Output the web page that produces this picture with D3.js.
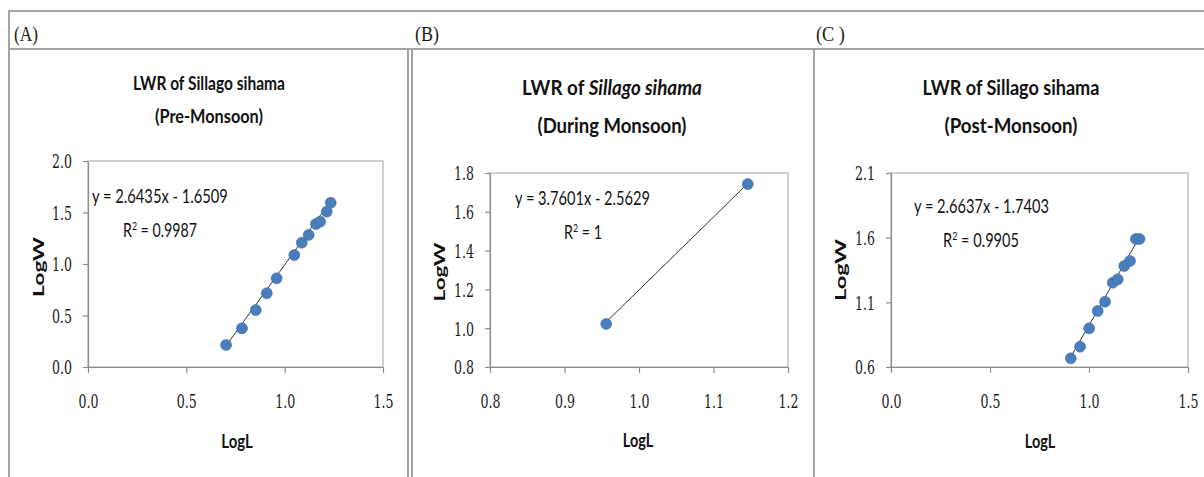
<!DOCTYPE html>
<html>
<head>
<meta charset="utf-8">
<script src="https://cdnjs.cloudflare.com/ajax/libs/d3/7.8.5/d3.min.js"></script>
<style>
  html, body { margin: 0; padding: 0; background: #fff; }
  svg { display: block; }
</style>
</head>
<body>
<script>
// ---- data ----
const preLogL = [0.702, 0.783, 0.853, 0.909, 0.959, 1.049, 1.087, 1.122, 1.159, 1.180, 1.214, 1.234];
const preLogW = [0.214, 0.376, 0.553, 0.716, 0.861, 1.087, 1.207, 1.282, 1.388, 1.411, 1.508, 1.595];

const duringLogL = [0.956, 1.146];
const duringLogW = [1.022, 1.743];

const postLogL = [0.908, 0.955, 1.001, 1.044, 1.081, 1.120, 1.145, 1.178, 1.207, 1.237, 1.255];
const postLogW = [0.667, 0.757, 0.899, 1.033, 1.105, 1.252, 1.278, 1.381, 1.420, 1.590, 1.590];

const fitSlopes = [2.6435, 3.7601, 2.6637];
const fitIntercepts = [-1.6509, -2.5629, -1.7403];
const eqLabels = ["y = 2.6435x - 1.6509", "y = 3.7601x - 2.5629", "y = 2.6637x - 1.7403"];
const r2Labels = ["0.9987", "1", "0.9905"];

const preXTicks = [0, 0.5, 1.0, 1.5];
const preYTicks = [0, 0.5, 1.0, 1.5, 2.0];
const duringXTicks = [0.8, 0.9, 1.0, 1.1, 1.2];
const duringYTicks = [0.8, 1.0, 1.2, 1.4, 1.6, 1.8];
const postXTicks = [0, 0.5, 1.0, 1.5];
const postYTicks = [0.6, 1.1, 1.6, 2.1];

const panelTags = ["(A)", "(B)", "(C )"];
const titlePrefix = "LWR of ";
const species = "Sillago sihama";
const speciesItalic = [false, true, false];
const seasons = ["(Pre-Monsoon)", "(During Monsoon)", "(Post-Monsoon)"];
const xTitle = "LogL";
const yTitle = "LogW";

// ---- layout ----
const W = 1204, H = 477;
const sans = "Lato, 'Open Sans', sans-serif";
const serif = "'DejaVu Serif', 'Liberation Serif', serif";
const frameColor = "#a3a3a3";

const svg = d3.select("body").append("svg")
  .attr("width", W).attr("height", H);

// frame lines
const frame = svg.append("g").attr("stroke", frameColor).attr("stroke-width", 2).attr("fill", "none");
frame.append("line").attr("x1", 9).attr("x2", W).attr("y1", 11).attr("y2", 11);
frame.append("line").attr("x1", 9).attr("x2", W).attr("y1", 49).attr("y2", 49);
frame.append("line").attr("x1", 9).attr("x2", 9).attr("y1", 10).attr("y2", H);
frame.append("line").attr("x1", 408).attr("x2", 408).attr("y1", 49).attr("y2", H);
frame.append("line").attr("x1", 412).attr("x2", 412).attr("y1", 49).attr("y2", H);
frame.append("line").attr("x1", 814).attr("x2", 814).attr("y1", 49).attr("y2", H);

// text helper: parts = [{t, italic, sup}], fitted to a width by squeezing horizontally
function placeText(parent, o) {
  const g = parent.append("g")
    .attr("transform", `translate(${o.x},${o.y})` + (o.rotate ? ` rotate(${o.rotate})` : ""));
  const t = g.append("text")
    .attr("text-anchor", o.anchor || "start")
    .attr("font-family", o.family || sans)
    .attr("font-size", o.size)
    .attr("font-weight", o.weight || "normal")
    .attr("fill", o.color || "#111");
  let shift = 0;
  o.parts.forEach(p => {
    const s = t.append("tspan").text(p.t);
    if (p.italic) s.attr("font-style", "italic");
    if (p.sup) {
      s.attr("font-size", o.size * 0.62).attr("dy", -o.size * 0.38);
      shift = o.size * 0.38;
    } else if (shift) {
      s.attr("dy", shift);
      shift = 0;
    }
  });
  if (o.width) {
    const w = t.node().getBBox().width;
    t.attr("transform", `scale(${o.width / w},${o.sy || 1})`);
  }
  return g;
}

// squeeze tick labels to a fixed width
function squeezeTicks(axis, isY) {
  axis.selectAll(".tick text").each(function () {
    const t = d3.select(this)
      .attr("font-family", serif).attr("font-size", 19).attr("fill", "#1a1a1a");
    if (isY) t.attr("x", 0).attr("dy", "0.36em");
    else t.attr("y", 0).attr("dy", 0);
    const s = 20 / this.getBBox().width;
    t.attr("transform", isY ? `translate(-16,0) scale(${s},1)` : `translate(0,41) scale(${s},1)`);
  });
}

const panels = [
  { lx: preLogL, ly: preLogW, xt: preXTicks, yt: preYTicks,
    plot: { l: 88, r: 383, t: 161, b: 367 },
    tag: { x: 14, y: 41 },
    title: { cx: 209, y1: 90, y2: 123, w1: 152, w2: 108, size: 18 },
    eq: { x: 92, y: 203, w: 136 }, r2: { x: 123, y: 237, w: 74 },
    yT: { x: 44, cy: 267, len: 60 }, xT: { cx: 237, y: 448, w: 32 } },
  { lx: duringLogL, ly: duringLogW, xt: duringXTicks, yt: duringYTicks,
    plot: { l: 490, r: 788, t: 173, b: 367 },
    tag: { x: 415, y: 41 },
    title: { cx: 612, y1: 95, y2: 133, w1: 180, w2: 149, size: 21 },
    eq: { x: 515, y: 205, w: 135 }, r2: { x: 564, y: 239, w: 38 },
    yT: { x: 445, cy: 272, len: 59 }, xT: { cx: 638, y: 447, w: 31 } },
  { lx: postLogL, ly: postLogW, xt: postXTicks, yt: postYTicks,
    plot: { l: 891, r: 1188, t: 173, b: 367 },
    tag: { x: 816, y: 41 },
    title: { cx: 1011, y1: 95, y2: 133, w1: 177, w2: 133, size: 21 },
    eq: { x: 914, y: 213, w: 135 }, r2: { x: 943, y: 247, w: 76 },
    yT: { x: 846, cy: 270, len: 62 }, xT: { cx: 1040, y: 448, w: 31 } }
];

panels.forEach((p, i) => {
  const g = svg.append("g");
  const x = d3.scaleLinear().domain(d3.extent(p.xt)).range([p.plot.l, p.plot.r]);
  const y = d3.scaleLinear().domain(d3.extent(p.yt)).range([p.plot.b, p.plot.t]);

  // panel tag
  placeText(g, { x: p.tag.x, y: p.tag.y, size: 20, family: "'Liberation Serif', serif",
    parts: [{ t: panelTags[i] }], color: "#1a1a1a", width: i === 2 ? 29 : 24 });

  // titles
  const tt = p.title;
  placeText(g, { x: tt.cx, y: tt.y1, anchor: "middle", size: tt.size, weight: "bold",
    parts: [{ t: titlePrefix }, { t: species, italic: speciesItalic[i] }], width: tt.w1 });
  placeText(g, { x: tt.cx, y: tt.y2, anchor: "middle", size: tt.size, weight: "bold",
    parts: [{ t: seasons[i] }], width: tt.w2 });

  // plot area border
  g.append("rect")
    .attr("x", p.plot.l).attr("y", p.plot.t)
    .attr("width", p.plot.r - p.plot.l).attr("height", p.plot.b - p.plot.t)
    .attr("fill", "none").attr("stroke", "#b3b3b3").attr("stroke-width", 1.2);

  // axes
  const fmt = d3.format(".1f");
  const xAxis = g.append("g").attr("transform", `translate(0,${p.plot.b})`)
    .call(d3.axisBottom(x).tickValues(p.xt).tickFormat(fmt).tickSize(6).tickSizeOuter(0));
  const yAxis = g.append("g").attr("transform", `translate(${p.plot.l},0)`)
    .call(d3.axisLeft(y).tickValues(p.yt).tickFormat(fmt).tickSize(5).tickSizeOuter(0));
  [xAxis, yAxis].forEach(a => {
    a.select(".domain").attr("stroke", "#8c8c8c").attr("stroke-width", 1.2);
    a.selectAll(".tick line").attr("stroke", "#8c8c8c").attr("stroke-width", 1.2);
  });
  squeezeTicks(xAxis, false);
  squeezeTicks(yAxis, true);

  // trend line
  const x0 = d3.min(p.lx), x1 = d3.max(p.lx);
  g.append("line")
    .attr("x1", x(x0)).attr("y1", y(fitSlopes[i] * x0 + fitIntercepts[i]))
    .attr("x2", x(x1)).attr("y2", y(fitSlopes[i] * x1 + fitIntercepts[i]))
    .attr("stroke", "#333").attr("stroke-width", 1);

  // points
  g.selectAll(".pt").data(d3.zip(p.lx, p.ly)).enter().append("circle")
    .attr("cx", d => x(d[0])).attr("cy", d => y(d[1])).attr("r", 5.5)
    .attr("fill", "#4a7ebb").attr("stroke", "#3f6fa8").attr("stroke-width", 0.6);

  // equation + R²
  placeText(g, { x: p.eq.x, y: p.eq.y, size: 19, parts: [{ t: eqLabels[i] }], width: p.eq.w });
  placeText(g, { x: p.r2.x, y: p.r2.y, size: 19,
    parts: [{ t: "R" }, { t: "2", sup: true }, { t: " = " + r2Labels[i] }], width: p.r2.w });

  // axis titles
  placeText(g, { x: p.xT.cx, y: p.xT.y, anchor: "middle", size: 18, weight: "bold",
    parts: [{ t: xTitle }], width: p.xT.w });
  placeText(g, { x: p.yT.x, y: p.yT.cy, anchor: "middle", size: 20, weight: "bold", rotate: -90,
    parts: [{ t: yTitle }], width: p.yT.len, sy: 0.8 });
});
</script>
</body>
</html>
